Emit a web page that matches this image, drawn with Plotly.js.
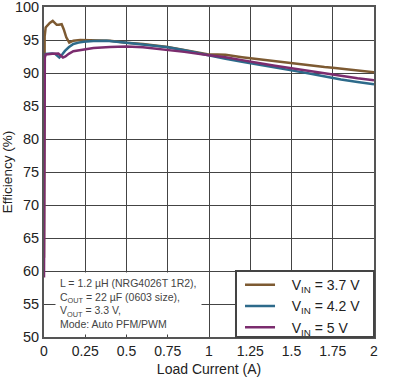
<!DOCTYPE html>
<html>
<head>
<meta charset="utf-8">
<script src="https://cdn.plot.ly/plotly-3.0.1.min.js"></script>
<style>html,body{margin:0;padding:0;background:#fff;}#chart{width:395px;height:383px;}</style>
</head>
<body>
<div id="chart"></div>
<script>
// Load current (A) and efficiency (%) for each input voltage
const x37 = [0, 0.001, 0.002, 0.004, 0.01, 0.02, 0.035, 0.053, 0.065, 0.077, 0.09, 0.107, 0.12, 0.135, 0.153, 0.178, 0.22, 0.3, 0.4, 0.5, 0.6, 0.75, 0.85, 0.99, 1.05, 1.1, 1.2, 1.25, 1.3, 1.4, 1.5, 1.6, 1.7, 1.75, 1.8, 1.9, 2.0];
const y37 = [62, 80, 90, 95.5, 96.9, 97.2, 97.6, 97.9, 97.6, 97.3, 97.3, 97.4, 96.6, 95.4, 94.6, 94.9, 95.0, 95.0, 94.9, 94.6, 94.4, 93.95, 93.5, 92.85, 92.8, 92.75, 92.4, 92.25, 92.05, 91.7, 91.4, 91.15, 90.9, 90.8, 90.65, 90.4, 90.1];

const x42 = [0, 0.002, 0.005, 0.01, 0.03, 0.05, 0.067, 0.08, 0.093, 0.11, 0.127, 0.15, 0.178, 0.21, 0.24, 0.3, 0.38, 0.5, 0.6, 0.75, 0.85, 1.0, 1.1, 1.2, 1.25, 1.3, 1.4, 1.5, 1.6, 1.7, 1.75, 1.8, 1.9, 2.0];
const y42 = [88, 91.5, 92.6, 92.9, 92.95, 92.95, 92.9, 92.6, 92.35, 92.8, 93.35, 93.9, 94.4, 94.6, 94.75, 94.85, 94.9, 94.6, 94.35, 93.9, 93.45, 92.65, 92.15, 91.7, 91.5, 91.3, 90.85, 90.4, 89.95, 89.45, 89.2, 89.0, 88.65, 88.3];

const x50 = [0, 0.002, 0.005, 0.01, 0.03, 0.05, 0.087, 0.1, 0.115, 0.13, 0.15, 0.178, 0.24, 0.3, 0.4, 0.5, 0.6, 0.75, 0.85, 1.0, 1.1, 1.2, 1.25, 1.3, 1.4, 1.5, 1.6, 1.7, 1.75, 1.8, 1.9, 2.0];
const y50 = [59, 85, 92.3, 92.8, 92.9, 92.9, 92.95, 92.7, 92.35, 92.5, 92.9, 93.3, 93.6, 93.8, 93.95, 94.0, 93.9, 93.5, 93.2, 92.7, 92.4, 91.95, 91.7, 91.5, 91.1, 90.7, 90.3, 89.9, 89.7, 89.5, 89.2, 88.9];

const seriesNames = ['V<sub>IN</sub> = 3.7 V', 'V<sub>IN</sub> = 4.2 V', 'V<sub>IN</sub> = 5 V'];
const xTickVals = [0, 0.25, 0.5, 0.75, 1, 1.25, 1.5, 1.75, 2];
const xTickText = ['0', '0.25', '0.5', '0.75', '1', '1.25', '1.5', '1.75', '2'];
const yTickVals = [50, 55, 60, 65, 70, 75, 80, 85, 90, 95, 100];
const noteText = 'L = 1.2 µH (NRG4026T 1R2),<br>C<sub>OUT</sub> = 22 µF (0603 size),<br>V<sub>OUT</sub> = 3.3 V,<br>Mode: Auto PFM/PWM';

const colors = ['#7d5a32', '#2d6a8a', '#7b2c6e'];
const xs = [x37, x42, x50];
const ys = [y37, y42, y50];
const pad = '\u00a0\u00a0\u00a0';

const data = seriesNames.map((n, i) => ({
  x: xs[i], y: ys[i], name: pad + n, type: 'scatter', mode: 'lines',
  line: {color: colors[i], width: 2.5},
  hoverinfo: 'skip'
}));

const font = 'Liberation Sans, Arial, sans-serif';
const layout = {
  width: 395, height: 383,
  margin: {l: 44, r: 21, t: 7, b: 46},
  paper_bgcolor: '#fff', plot_bgcolor: '#fff',
  font: {family: font, color: '#222', size: 14},
  showlegend: true,
  legend: {
    x: 0.594, xanchor: 'left', y: 0.2054, yanchor: 'top',
    bgcolor: 'rgba(0,0,0,0)', borderwidth: 0,
    font: {family: font, size: 14, color: '#222'},
    itemwidth: 30, tracegroupgap: 0
  },
  shapes: [{
    type: 'rect', xref: 'paper', yref: 'paper',
    x0: 0.5818, x1: 1, y0: 0, y1: 0.2,
    fillcolor: '#fff', line: {color: '#444', width: 2}, layer: 'above'
  }],
  xaxis: {
    range: [0, 2], tickvals: xTickVals, ticktext: xTickText,
    showgrid: true, gridcolor: '#444', gridwidth: 1,
    showline: true, linecolor: '#555', linewidth: 2, mirror: true,
    zeroline: false, ticks: '', tickfont: {size: 14},
    ticklabeloverflow: 'allow',
    title: {text: 'Load Current (A)', font: {size: 14}, standoff: 6}
  },
  yaxis: {
    range: [50, 100], tickvals: yTickVals,
    showgrid: true, gridcolor: '#444', gridwidth: 1,
    showline: true, linecolor: '#555', linewidth: 2, mirror: true,
    zeroline: false, ticks: '', tickfont: {size: 14.5},
    ticklabeloverflow: 'allow',
    title: {text: 'Efficiency (%)', font: {size: 13.5}, standoff: 6}
  },
  annotations: [{
    text: noteText, xref: 'paper', yref: 'paper',
    x: 0.034, y: 0.005, xanchor: 'left', yanchor: 'bottom',
    align: 'left', showarrow: false, bgcolor: '#fff', borderpad: 4,
    font: {family: font, size: 10.5, color: '#444'}
  }]
};

Plotly.newPlot('chart', data, layout, {staticPlot: true, displayModeBar: false});
</script>
</body>
</html>
